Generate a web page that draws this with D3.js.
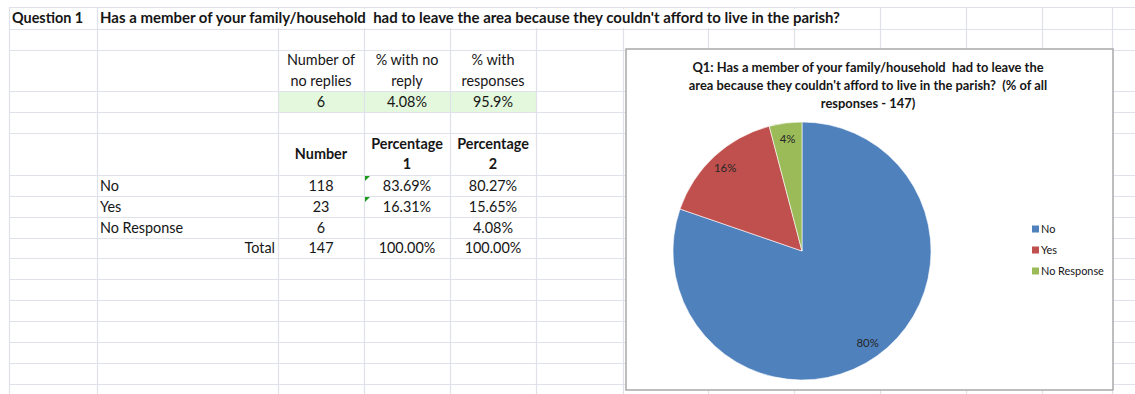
<!DOCTYPE html>
<html>
<head>
<meta charset="utf-8">
<script src="https://cdn.jsdelivr.net/npm/d3@7"></script>
<style>
  html, body { margin: 0; padding: 0; background: #fff; }
  svg { display: block; }
  text { font-family: Lato, "Open Sans", sans-serif; fill: #161616; white-space: pre; }
</style>
</head>
<body>
<svg id="sheet" width="1135" height="394"></svg>
<script>
// Survey data for question 1
const question = "Has a member of your family/household  had to leave the area because they couldn't afford to live in the parish?";
const categories = ["No", "Yes", "No Response"];
const counts = [118, 23, 6];
const percentage1 = ["83.69%", "16.31%", ""];
const percentage2 = ["80.27%", "15.65%", "4.08%"];
const summaryHeaders = [["Number of", "no replies"], ["% with no", "reply"], ["% with", "responses"]];
const summaryValues = ["6", "4.08%", "95.9%"];
const tableHeaders = [["Number"], ["Percentage", "1"], ["Percentage", "2"]];
const totals = ["147", "100.00%", "100.00%"];
const chartTitle = ["Q1: Has a member of your family/household  had to leave the",
                    "area because they couldn't afford to live in the parish?  (% of all",
                    "responses - 147)"];
const colors = ["#4f81bd", "#c0504d", "#9bbb59"];

// Worksheet grid geometry
const colEdges = [9, 97, 278, 364, 450, 536, 623, 708, 794, 880, 966, 1042, 1112, 1135];
const rowEdges = [7, 29, 50, 91, 112, 133, 175, 196, 217, 238, 258, 279, 300, 321, 342, 363, 384, 405];

const svg = d3.select("#sheet");
const colMid = i => (colEdges[i] + colEdges[i + 1]) / 2;
const rowMid = i => (rowEdges[i] + rowEdges[i + 1]) / 2;
const FS = 14.4;

// highlighted summary row
svg.append("rect")
  .attr("x", colEdges[2]).attr("y", rowEdges[3])
  .attr("width", colEdges[5] - colEdges[2]).attr("height", rowEdges[4] - rowEdges[3])
  .attr("fill", "#e3f8dc");

// gridlines
const grid = svg.append("g").attr("stroke", "#dfe2ea").attr("stroke-width", 1.2);
grid.selectAll("line.h").data(rowEdges).join("line")
  .attr("x1", colEdges[0]).attr("x2", 1135)
  .attr("y1", d => d + 0.5).attr("y2", d => d + 0.5);
grid.selectAll("line.v").data(colEdges.slice(0, -1)).join("line")
  .attr("x1", d => d + 0.5).attr("x2", d => d + 0.5)
  .attr("y1", rowEdges[0]).attr("y2", 394);
// long title text overflows across the cells to its right
svg.append("rect").attr("x", colEdges[1] + 2).attr("y", rowEdges[0] + 2)
  .attr("width", 846 - colEdges[1]).attr("height", rowEdges[1] - rowEdges[0] - 3).attr("fill", "#fff");

// row 1 header
svg.append("text").attr("x", 12).attr("y", rowMid(0)).attr("dy", "0.35em")
  .attr("font-weight", "bold").attr("font-size", FS).text("Question 1");
svg.append("text").attr("x", 100).attr("y", rowMid(0)).attr("dy", "0.35em")
  .attr("font-weight", "bold").attr("font-size", FS)
  .attr("textLength", 740).attr("lengthAdjust", "spacingAndGlyphs")
  .text(question);

// multi-line centred cell text
function cellLines(col, top, bottom, lines, bold) {
  const mid = (top + bottom) / 2;
  const lh = 20.5;
  lines.forEach((ln, k) => {
    svg.append("text")
      .attr("x", colMid(col))
      .attr("y", mid + (k - (lines.length - 1) / 2) * lh)
      .attr("dy", "0.35em")
      .attr("text-anchor", "middle")
      .attr("font-size", FS)
      .attr("font-weight", bold ? "bold" : null)
      .text(ln);
  });
}

summaryHeaders.forEach((h, i) => cellLines(2 + i, rowEdges[2], rowEdges[3], h, false));
summaryValues.forEach((v, i) => cellLines(2 + i, rowEdges[3], rowEdges[4], [v], false));
tableHeaders.forEach((h, i) => cellLines(2 + i, rowEdges[5], rowEdges[6], h, true));

categories.forEach((c, r) => {
  const top = rowEdges[6 + r], bot = rowEdges[7 + r];
  svg.append("text").attr("x", 100).attr("y", (top + bot) / 2).attr("dy", "0.35em")
    .attr("font-size", FS).text(c);
  cellLines(2, top, bot, [String(counts[r])], false);
  cellLines(3, top, bot, [percentage1[r]], false);
  cellLines(4, top, bot, [percentage2[r]], false);
});
svg.append("text").attr("x", colEdges[2] - 3).attr("y", rowMid(9)).attr("dy", "0.35em")
  .attr("text-anchor", "end").attr("font-size", FS).text("Total");
totals.forEach((t, i) => cellLines(2 + i, rowEdges[9], rowEdges[10], [t], false));

// error indicator triangles (numbers stored as text)
[0, 1].forEach(r => {
  const x = colEdges[3] + 1, y = rowEdges[6 + r] + 1;
  svg.append("path").attr("d", `M${x},${y}h5l-5,5z`).attr("fill", "#1e9b1e");
});

// chart object
const box = { x: 626, y: 49, w: 487, h: 341 };
svg.append("rect").attr("x", box.x).attr("y", box.y).attr("width", box.w).attr("height", box.h)
  .attr("fill", "#fff").attr("stroke", "#a9a9a9").attr("stroke-width", 1.5);

chartTitle.forEach((t, k) => {
  svg.append("text").attr("x", 868).attr("y", 67 + k * 18).attr("dy", "0.35em")
    .attr("text-anchor", "middle").attr("font-weight", "bold").attr("font-size", 12.9)
    .text(t);
});

const total = d3.sum(counts);
const pie = d3.pie().sort(null).value(d => d)(counts);
const radius = 129;
const arc = d3.arc().innerRadius(0).outerRadius(radius);
const labelArc = d3.arc().innerRadius(113).outerRadius(113);
const pg = svg.append("g").attr("transform", "translate(802,251)");
pg.selectAll("path").data(pie).join("path")
  .attr("d", arc).attr("fill", (d, i) => colors[i])
  .attr("stroke", "#fff").attr("stroke-width", 0.6);
pg.selectAll("text").data(pie).join("text")
  .attr("transform", d => `translate(${labelArc.centroid(d)})`)
  .attr("text-anchor", "middle").attr("dy", "0.35em")
  .attr("font-size", 11.4).style("fill", "#262626")
  .text(d => d3.format(".0%")(d.data / total));

// legend
const lg = svg.append("g").attr("transform", "translate(1032,229)");
categories.forEach((c, i) => {
  const g = lg.append("g").attr("transform", `translate(0,${i * 21})`);
  g.append("rect").attr("x", 0).attr("y", -3.5).attr("width", 7).attr("height", 7).attr("fill", colors[i]);
  g.append("text").attr("x", 9).attr("y", 0).attr("dy", "0.35em").attr("font-size", 10.9).text(c);
});
</script>
</body>
</html>
